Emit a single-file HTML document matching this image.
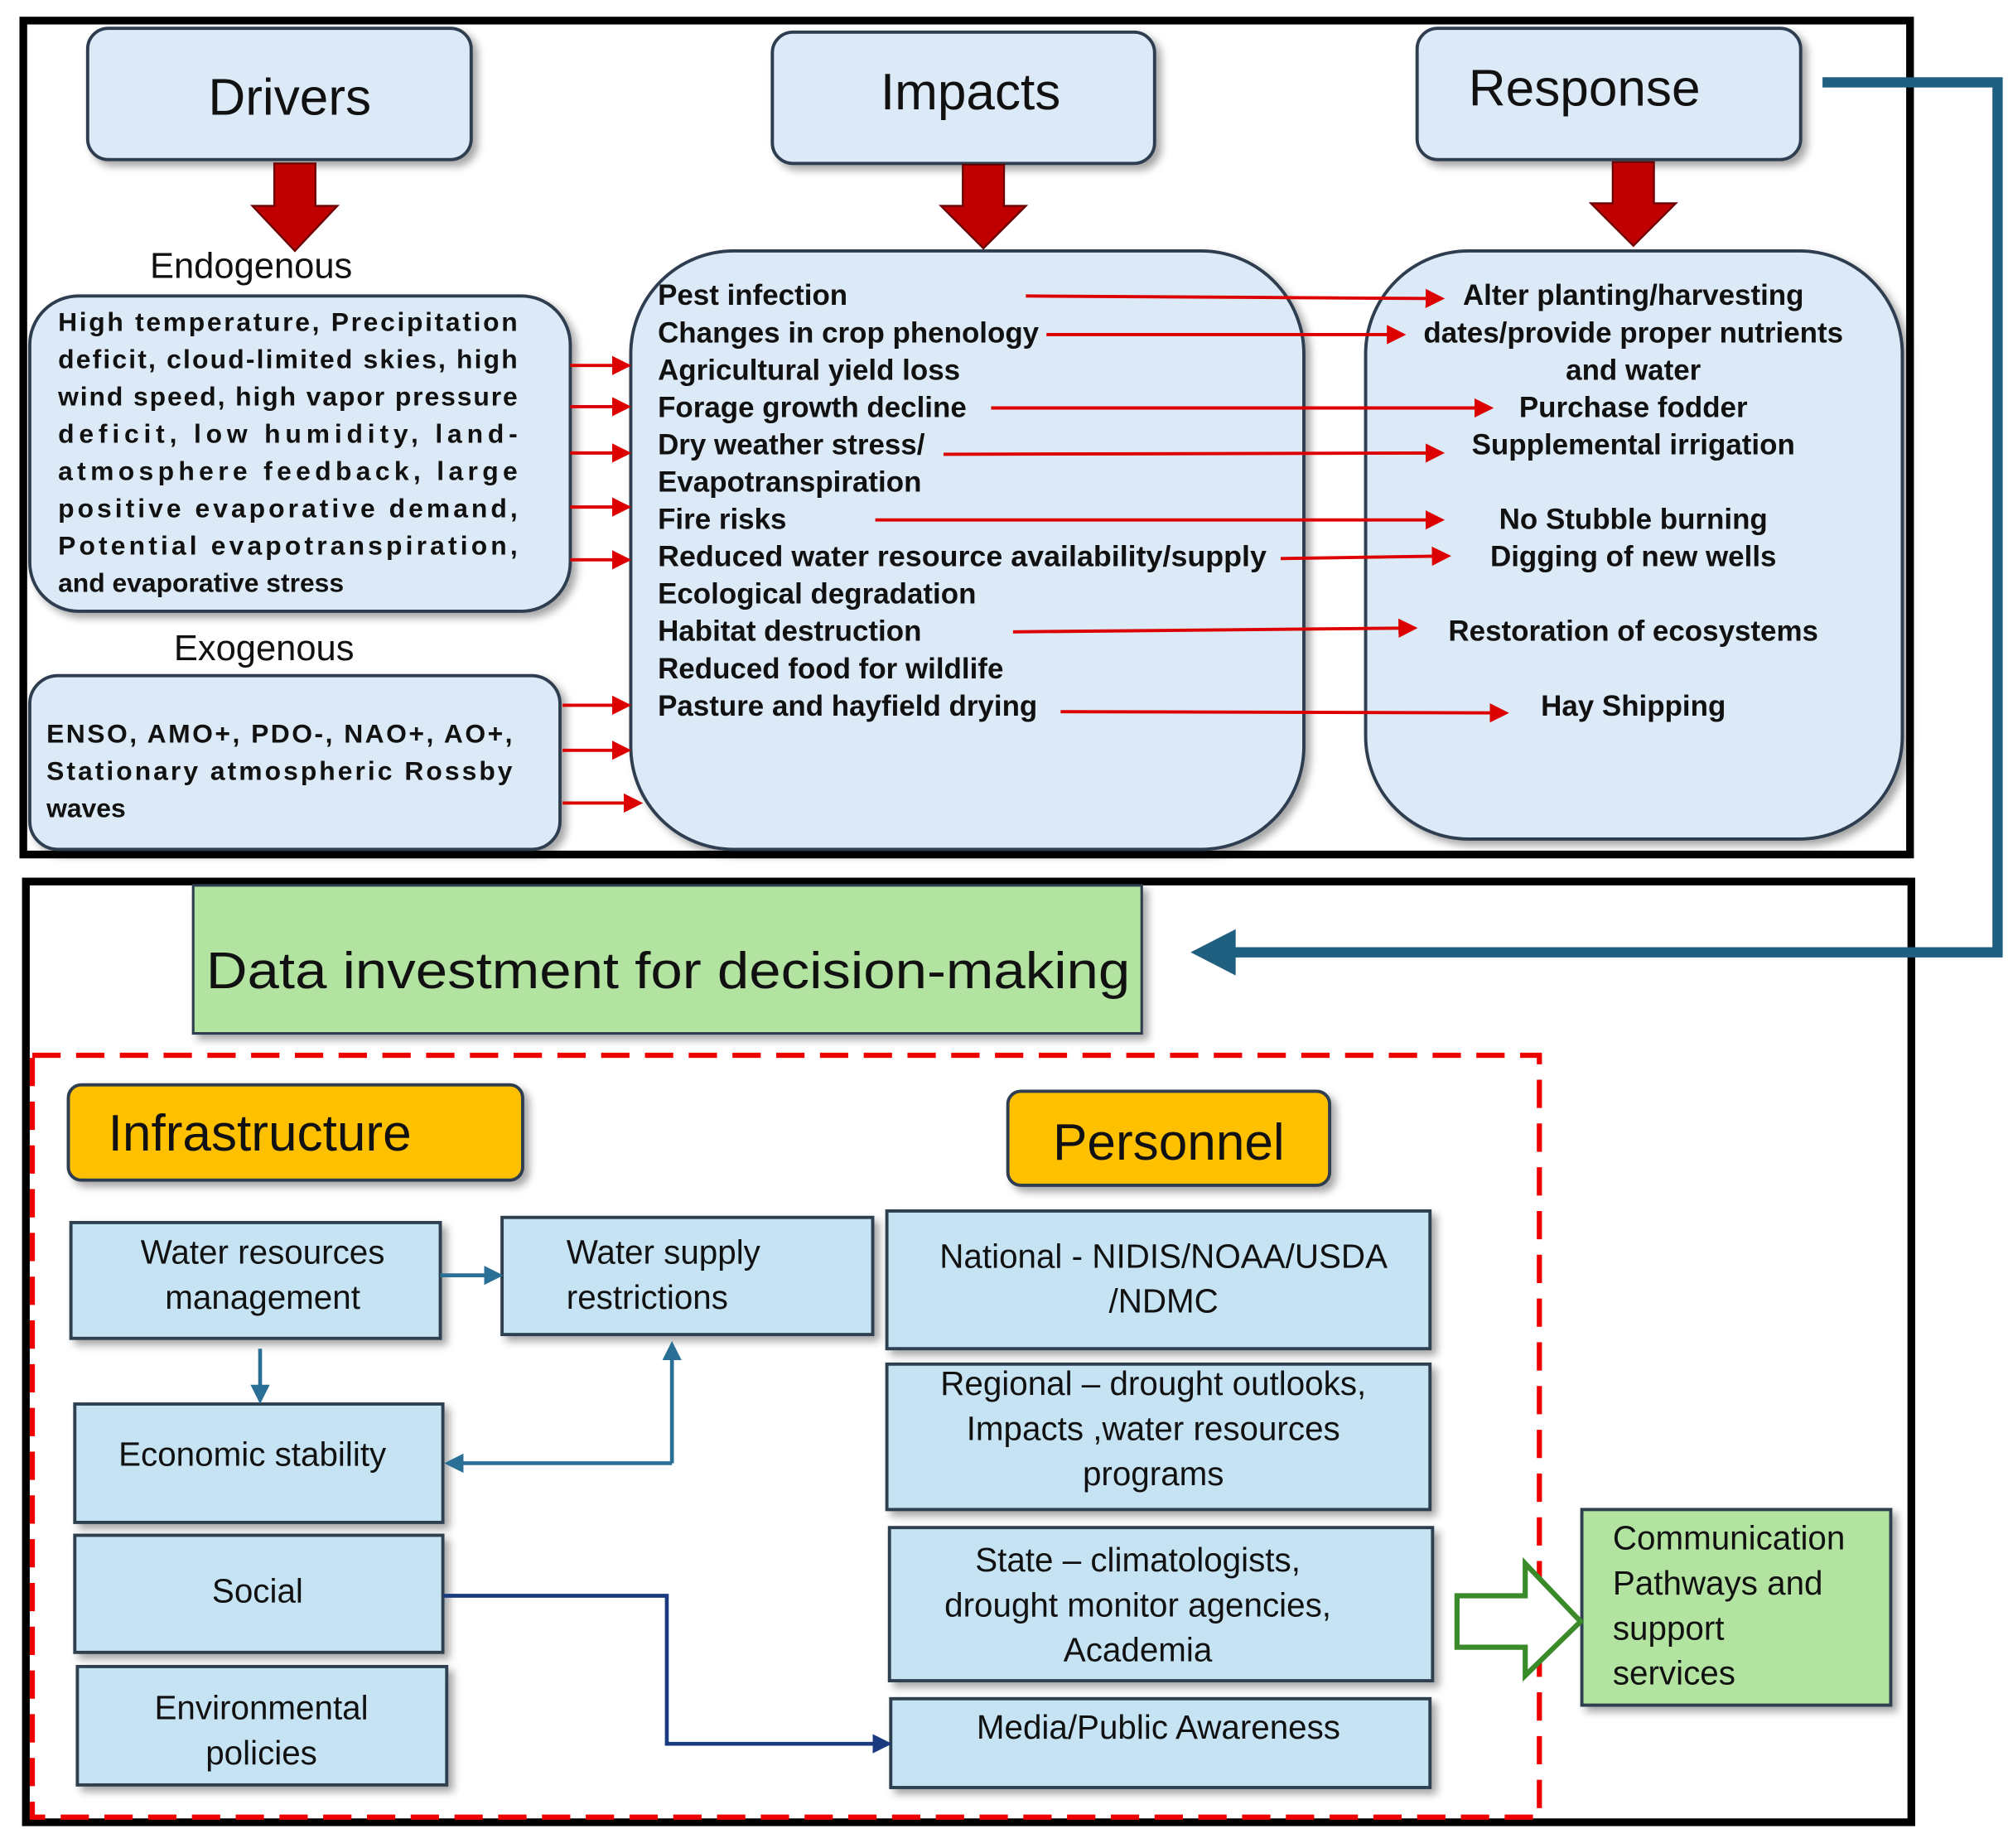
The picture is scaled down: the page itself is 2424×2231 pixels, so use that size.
<!DOCTYPE html>
<html><head><meta charset="utf-8"><style>
html,body{margin:0;padding:0;background:#fff}
svg{display:block}
text{font-family:"Liberation Sans",sans-serif}
.b{font-weight:bold;font-size:20.5px;fill:#111}
.c{font-weight:bold;font-size:22.5px;fill:#111}
.m{font-size:26px;fill:#111}
</style></head><body>
<svg width="2424" height="2231" viewBox="0 0 1560 1436" xmlns="http://www.w3.org/2000/svg">
<defs>
<marker id="ra" markerWidth="6" markerHeight="6" refX="5" refY="3" orient="auto" markerUnits="strokeWidth"><path d="M0,0 L6,3 L0,6 z" fill="#d00"/></marker>
<marker id="ta" markerWidth="5" markerHeight="5" refX="4" refY="2.5" orient="auto" markerUnits="strokeWidth"><path d="M0,0 L5,2.5 L0,5 z" fill="#2a6f95"/></marker>
<marker id="na" markerWidth="5" markerHeight="5" refX="4" refY="2.5" orient="auto" markerUnits="strokeWidth"><path d="M0,0 L5,2.5 L0,5 z" fill="#1a3a80"/></marker>
<filter id="sh" x="-10%" y="-10%" width="130%" height="130%"><feDropShadow dx="4" dy="4" stdDeviation="3" flood-color="#000" flood-opacity="0.35"/></filter>
</defs>
<rect width="1560" height="1436" fill="#fff"/>
<rect x="18" y="16" width="1466" height="648" fill="none" stroke="#000" stroke-width="6"/>
<rect x="20" y="685" width="1465" height="731" fill="none" stroke="#000" stroke-width="6"/>

<g fill="#dce9f6" stroke="#2d3e50" stroke-width="2.5" filter="url(#sh)">
<rect x="68" y="22" width="298" height="102" rx="16"/>
<rect x="600" y="25" width="297" height="102" rx="16"/>
<rect x="1101" y="22" width="298" height="102" rx="16"/>
<rect x="23" y="230" width="420" height="245" rx="38"/>
<rect x="23" y="525" width="412" height="135" rx="22"/>
<rect x="490" y="195" width="523" height="465" rx="80"/>
<rect x="1061" y="195" width="417" height="457" rx="80"/>
</g>
<text x="225" y="89" font-size="40" text-anchor="middle" fill="#111">Drivers</text>
<text x="754" y="85" font-size="40" text-anchor="middle" fill="#111">Impacts</text>
<text x="1231" y="82" font-size="40" text-anchor="middle" fill="#111">Response</text>

<g fill="#c00000" stroke="#6b0000" stroke-width="1.5">
<path d="M213,127 H245 V160 H262 L229,195 L196,160 H213 Z"/>
<path d="M748,128 H780 V160 H797 L764,193 L731,160 H748 Z"/>
<path d="M1253,126 H1285 V158 H1302 L1269,191 L1236,158 H1253 Z"/>
</g>

<text x="195" y="216" font-size="28" text-anchor="middle" fill="#111">Endogenous</text>
<text x="205" y="513" font-size="28" text-anchor="middle" fill="#111">Exogenous</text>

<g class="b">
<text x="45" y="257" textLength="357" lengthAdjust="spacing">High temperature, Precipitation</text>
<text x="45" y="286" textLength="357" lengthAdjust="spacing">deficit, cloud-limited skies, high</text>
<text x="45" y="315" textLength="357" lengthAdjust="spacing">wind speed, high vapor pressure</text>
<text x="45" y="344" textLength="357" lengthAdjust="spacing">deficit,   low   humidity,   land-</text>
<text x="45" y="373" textLength="357" lengthAdjust="spacing">atmosphere   feedback,   large</text>
<text x="45" y="402" textLength="357" lengthAdjust="spacing">positive  evaporative  demand,</text>
<text x="45" y="431" textLength="357" lengthAdjust="spacing">Potential    evapotranspiration,</text>
<text x="45" y="460">and evaporative stress</text>
<text x="36" y="577" textLength="362" lengthAdjust="spacing">ENSO, AMO+, PDO-, NAO+, AO+,</text>
<text x="36" y="606" textLength="362" lengthAdjust="spacing">Stationary  atmospheric  Rossby</text>
<text x="36" y="635">waves</text>
</g>
<g class="c">
<text x="511" y="237">Pest infection</text>
<text x="511" y="266">Changes in crop phenology</text>
<text x="511" y="295">Agricultural yield loss</text>
<text x="511" y="324">Forage growth decline</text>
<text x="511" y="353">Dry weather stress/</text>
<text x="511" y="382">Evapotranspiration</text>
<text x="511" y="411">Fire risks</text>
<text x="511" y="440" textLength="473" lengthAdjust="spacingAndGlyphs">Reduced water resource availability/supply</text>
<text x="511" y="469">Ecological degradation</text>
<text x="511" y="498">Habitat destruction</text>
<text x="511" y="527">Reduced food for wildlife</text>
<text x="511" y="556">Pasture and hayfield drying</text>
</g>
<g class="c" text-anchor="middle">
<text x="1269" y="237">Alter planting/harvesting</text>
<text x="1269" y="266">dates/provide proper nutrients</text>
<text x="1269" y="295">and water</text>
<text x="1269" y="324">Purchase fodder</text>
<text x="1269" y="353">Supplemental irrigation</text>
<text x="1269" y="411">No Stubble burning</text>
<text x="1269" y="440">Digging of new wells</text>
<text x="1269" y="498">Restoration of ecosystems</text>
<text x="1269" y="556">Hay Shipping</text>
</g>

<g stroke="#d00" stroke-width="2.5" marker-end="url(#ra)">
<line x1="443" y1="284" x2="488" y2="284"/>
<line x1="443" y1="316" x2="488" y2="316"/>
<line x1="443" y1="352" x2="488" y2="352"/>
<line x1="443" y1="394" x2="488" y2="394"/>
<line x1="443" y1="435" x2="488" y2="435"/>
<line x1="437" y1="548" x2="488" y2="548"/>
<line x1="437" y1="583" x2="488" y2="583"/>
<line x1="437" y1="624" x2="497" y2="624"/>
<line x1="797" y1="230" x2="1120" y2="232"/>
<line x1="813" y1="260" x2="1090" y2="260"/>
<line x1="770" y1="317" x2="1158" y2="317"/>
<line x1="733" y1="353" x2="1120" y2="352"/>
<line x1="680" y1="404" x2="1120" y2="404"/>
<line x1="995" y1="434" x2="1125" y2="432"/>
<line x1="787" y1="491" x2="1099" y2="488"/>
<line x1="824" y1="553" x2="1170" y2="554"/>
</g>

<path d="M1416,64 H1552 V740 H955" fill="none" stroke="#1f5f7f" stroke-width="8"/>
<path d="M925,740 L960,722 L960,758 Z" fill="#1f5f7f"/>

<rect x="150" y="688" width="737" height="115" fill="#b3e3a0" stroke="#2d3e50" stroke-width="2" filter="url(#sh)"/>
<text x="160" y="768" font-size="40" fill="#111" textLength="718" lengthAdjust="spacingAndGlyphs">Data investment for decision-making</text>

<rect x="25" y="820" width="1171" height="592" fill="none" stroke="#e00" stroke-width="4" stroke-dasharray="22,12"/>

<g fill="#ffc000" stroke="#2d3e50" stroke-width="2.5" filter="url(#sh)">
<rect x="53" y="843" width="353" height="74" rx="10"/>
<rect x="783" y="848" width="250" height="73" rx="10"/>
</g>
<text x="84" y="894" font-size="40" fill="#111">Infrastructure</text>
<text x="908" y="901" font-size="40" text-anchor="middle" fill="#111">Personnel</text>

<g fill="#c5e3f3" stroke="#2d4050" stroke-width="2.5" filter="url(#sh)">
<rect x="55" y="950" width="287" height="90"/>
<rect x="390" y="946" width="288" height="91"/>
<rect x="689" y="941" width="422" height="107"/>
<rect x="689" y="1060" width="422" height="113"/>
<rect x="691" y="1187" width="422" height="119"/>
<rect x="692" y="1320" width="419" height="69"/>
<rect x="58" y="1091" width="286" height="92"/>
<rect x="58" y="1193" width="286" height="91"/>
<rect x="60" y="1295" width="287" height="92"/>
</g>
<rect x="1229" y="1173" width="240" height="152" fill="#b3e3a0" stroke="#2d4050" stroke-width="2.5" filter="url(#sh)"/>

<g class="m" text-anchor="middle">
<text x="204" y="982">Water resources</text>
<text x="204" y="1017">management</text>
<text x="904" y="985">National - NIDIS/NOAA/USDA</text>
<text x="904" y="1020">/NDMC</text>
<text x="896" y="1084">Regional – drought outlooks,</text>
<text x="896" y="1119">Impacts ,water resources</text>
<text x="896" y="1154">programs</text>
<text x="884" y="1221">State – climatologists,</text>
<text x="884" y="1256">drought monitor agencies,</text>
<text x="884" y="1291">Academia</text>
<text x="900" y="1351">Media/Public Awareness</text>
<text x="196" y="1139">Economic stability</text>
<text x="200" y="1245">Social</text>
<text x="203" y="1336">Environmental</text>
<text x="203" y="1371">policies</text>
</g>
<g class="m">
<text x="440" y="982">Water supply</text>
<text x="440" y="1017">restrictions</text>
<text x="1253" y="1204">Communication</text>
<text x="1253" y="1239">Pathways and</text>
<text x="1253" y="1274">support</text>
<text x="1253" y="1309">services</text>
</g>

<g fill="none" stroke="#2a6f95" stroke-width="3" marker-end="url(#ta)">
<line x1="342" y1="991" x2="388" y2="991"/>
<line x1="202" y1="1048" x2="202" y2="1088"/>
<path d="M522,1137 V1045"/>
<path d="M522,1137 H348"/>
</g>
<path d="M344,1240 H518 V1355 H690" fill="none" stroke="#1a3a80" stroke-width="3" marker-end="url(#na)"/>

<path d="M1132,1240 H1185 V1215 L1228,1260 L1185,1302 V1280 H1132 Z" fill="#fff" stroke="#3a8a2a" stroke-width="4"/>
</svg>
</body></html>
